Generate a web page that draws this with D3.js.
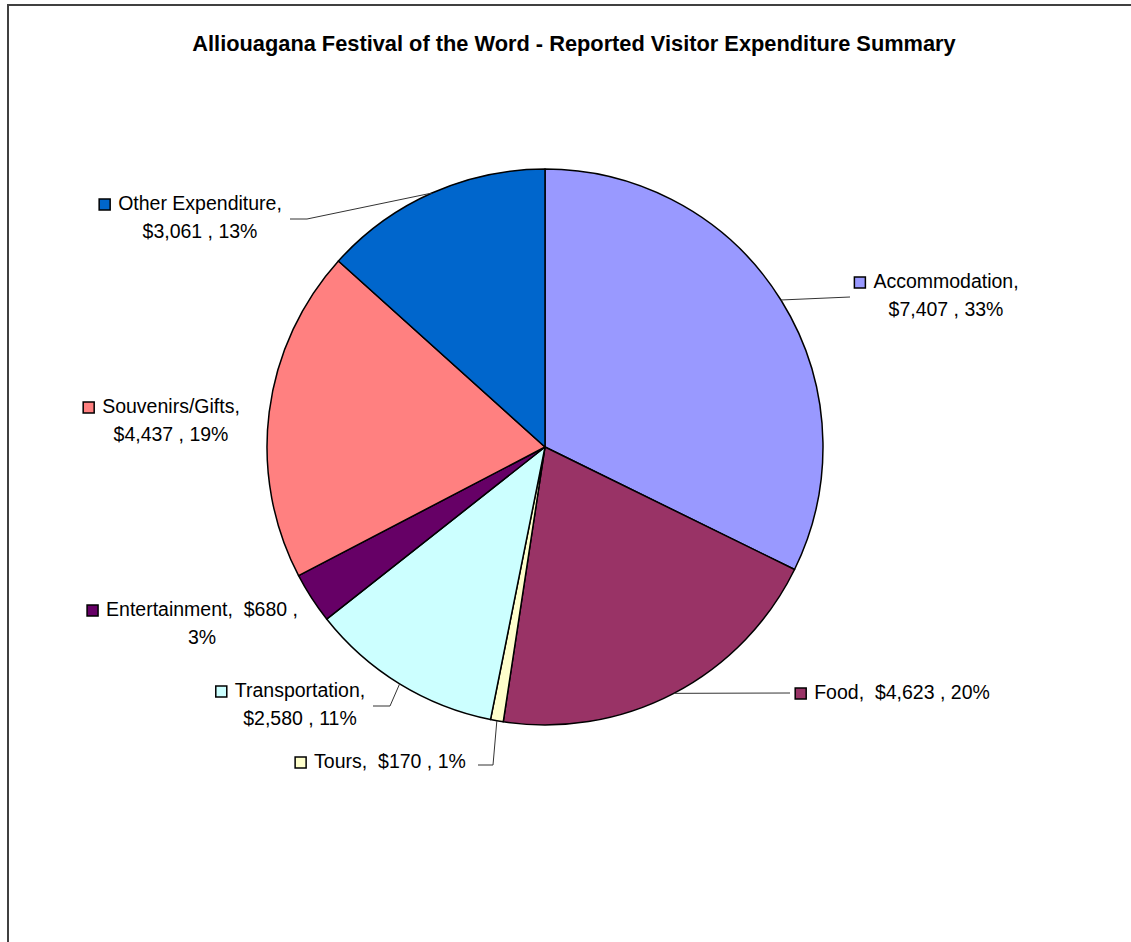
<!DOCTYPE html>
<html>
<head>
<meta charset="utf-8">
<script src="https://cdn.jsdelivr.net/npm/d3@7"></script>
<style>
  html, body { margin: 0; padding: 0; background: #fff; }
  svg { display: block; font-family: "Liberation Sans", Arial, sans-serif; }
</style>
</head>
<body>
<div id="chart"></div>
<script>
'use strict';

// data
var categories = ['Accommodation', 'Food', 'Tours', 'Transportation',
  'Entertainment', 'Souvenirs/Gifts', 'Other Expenditure'];
var values = [7407, 4623, 170, 2580, 680, 4437, 3061];
var percentLabels = ['33%', '20%', '1%', '11%', '3%', '19%', '13%'];
var colors = ['#9999FF', '#993366', '#FFFFCC', '#CCFFFF', '#660066', '#FF8080', '#0066CC'];

var title = 'Alliouagana Festival of the Word - Reported Visitor Expenditure Summary';

// where each label sits (cx = centre of text block, y = first baseline)
// split: 1 = break after name, 2 = break after value, 0 = one line
// bends: leader line points after leaving the pie edge
var labelLayout = {
  'Accommodation':     {cx: 946, y: 288, split: 1, bends: [[850, 297]]},
  'Food':              {cx: 902, y: 699, split: 0, bends: [[790, 693]]},
  'Tours':             {cx: 390, y: 768, split: 0, bends: [[493, 765], [478, 765]]},
  'Transportation':    {cx: 300, y: 697, split: 1, bends: [[390, 706], [373, 706]]},
  'Entertainment':     {cx: 202, y: 616, split: 2, bends: []},
  'Souvenirs/Gifts':   {cx: 171, y: 413, split: 1, bends: []},
  'Other Expenditure': {cx: 200, y: 210, split: 1, bends: [[307, 219], [290, 219]]}
};

var width = 1131, height = 942;
var cx = 545, cy = 447, radius = 278;
var lineGap = 28;

var fmt = d3.format('$,');

var svg = d3.select('#chart').append('svg')
  .attr('width', width)
  .attr('height', height);

// chart frame
svg.append('rect')
  .attr('x', 8).attr('y', 5)
  .attr('width', 1140).attr('height', 960)
  .attr('fill', '#fff')
  .attr('stroke', '#404040')
  .attr('stroke-width', 2);

svg.append('text')
  .attr('x', 574).attr('y', 51)
  .attr('text-anchor', 'middle')
  .attr('font-size', 21.8)
  .attr('font-weight', 'bold')
  .attr('fill', '#000')
  .text(title);

var rows = categories.map(function (c, i) {
  return {name: c, value: values[i], pct: percentLabels[i], color: colors[i]};
});

var pie = d3.pie().sort(null).value(function (d) { return d.value; });
var arc = d3.arc().innerRadius(0).outerRadius(radius);
var edgeArc = d3.arc().innerRadius(radius).outerRadius(radius);

var arcs = pie(rows);

var g = svg.append('g').attr('transform', 'translate(' + cx + ',' + cy + ')');

g.selectAll('path.slice')
  .data(arcs)
  .enter().append('path')
  .attr('class', 'slice')
  .attr('d', arc)
  .attr('fill', function (d) { return d.data.color; })
  .attr('stroke', '#000')
  .attr('stroke-width', 1.5)
  .attr('stroke-linejoin', 'round');

// leader lines
var line = d3.line();
arcs.forEach(function (d) {
  var lay = labelLayout[d.data.name];
  if (!lay.bends.length) return;
  var p = edgeArc.centroid(d);
  var pts = [[p[0] + cx, p[1] + cy]].concat(lay.bends);
  svg.append('path')
    .attr('d', line(pts))
    .attr('fill', 'none')
    .attr('stroke', '#333')
    .attr('stroke-width', 1);
});

// labels
var labels = svg.append('g').attr('font-size', 19.5).attr('fill', '#000');
rows.forEach(function (d) {
  var lay = labelLayout[d.name];
  var parts = [d.name + ',', fmt(d.value) + ' ,', d.pct];
  var lines;
  if (lay.split === 1) lines = [parts[0], parts[1] + ' ' + parts[2]];
  else if (lay.split === 2) lines = [parts[0] + '  ' + parts[1], parts[2]];
  else lines = [parts[0] + '  ' + parts[1] + ' ' + parts[2]];

  var first;
  lines.forEach(function (t, k) {
    var el = labels.append('text')
      .attr('x', lay.cx)
      .attr('y', lay.y + k * lineGap)
      .attr('text-anchor', 'middle')
      .attr('xml:space', 'preserve')
      .style('white-space', 'pre')
      .text(t);
    if (k === 0) first = el;
  });

  var w = first.node().getComputedTextLength();
  labels.append('rect')
    .attr('x', lay.cx - w / 2 - 19)
    .attr('y', lay.y - 11)
    .attr('width', 11).attr('height', 11)
    .attr('fill', d.color)
    .attr('stroke', '#000')
    .attr('stroke-width', 1.5);
});
</script>
</body>
</html>
